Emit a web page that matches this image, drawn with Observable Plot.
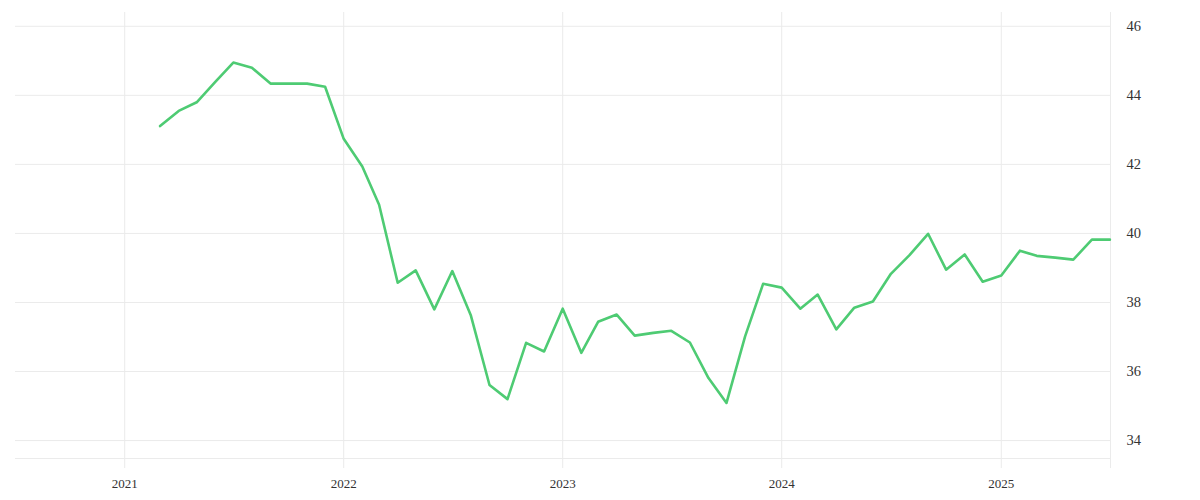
<!DOCTYPE html>
<html>
<head>
<meta charset="utf-8">
<script src="https://cdn.jsdelivr.net/npm/d3@7"></script>
<script src="https://cdn.jsdelivr.net/npm/@observablehq/plot@0.6"></script>
<style>
  html, body { margin: 0; padding: 0; background: #fff; }
  #chart svg { display: block; }
  #chart svg text { font-family: "Liberation Serif", "Times New Roman", serif !important; }
</style>
</head>
<body>
<div id="chart"></div>
<script>
const months = [
  "2021-03","2021-04","2021-05","2021-06","2021-07","2021-08","2021-09","2021-10","2021-11","2021-12",
  "2022-01","2022-02","2022-03","2022-04","2022-05","2022-06","2022-07","2022-08","2022-09","2022-10","2022-11","2022-12",
  "2023-01","2023-02","2023-03","2023-04","2023-05","2023-06","2023-07","2023-08","2023-09","2023-10","2023-11","2023-12",
  "2024-01","2024-02","2024-03","2024-04","2024-05","2024-06","2024-07","2024-08","2024-09","2024-10","2024-11","2024-12",
  "2025-01","2025-02","2025-03","2025-04","2025-05","2025-06","2025-07"
];
const values = [
  43.11, 43.55, 43.80, 44.39, 44.95, 44.80, 44.34, 44.34, 44.34, 44.25,
  42.74, 41.94, 40.83, 38.57, 38.93, 37.80, 38.91, 37.62, 35.61, 35.20, 36.83, 36.58,
  37.82, 36.54, 37.44, 37.65, 37.04, 37.12, 37.18, 36.84, 35.81, 35.09, 37.02, 38.54,
  38.43, 37.82, 38.23, 37.22, 37.85, 38.03, 38.83, 39.37, 39.99, 38.95, 39.39, 38.60,
  38.78, 39.50, 39.35, 39.30, 39.24, 39.82, 39.82
];
const yTicks = [34, 36, 38, 40, 42, 44, 46];
const xTicks = ["2021-01-01", "2022-01-01", "2023-01-01", "2024-01-01", "2025-01-01"];
const xDomain = ["2020-07-03", "2025-07-02"];
const yDomain = [33.48, 46.4];

const parse = d3.utcParse("%Y-%m");
const data = months.map((m, i) => ({date: parse(m), value: values[i]}));
const xTickDates = xTicks.map(s => new Date(s + "T00:00:00Z"));
const xDom = xDomain.map(s => new Date(s + "T00:00:00Z"));

const gridColor = "#ebebeb";
const textColor = "#333";

const chart = Plot.plot({
  width: 1200,
  height: 500,
  marginLeft: 15,
  marginRight: 90,
  marginTop: 12,
  marginBottom: 42,
  style: {fontFamily: "'Liberation Serif', 'Times New Roman', serif", fontSize: "13px", background: "#fff"},
  x: {type: "utc", domain: xDom},
  y: {domain: yDomain},
  marks: [
    Plot.gridY(yTicks, {stroke: gridColor, strokeOpacity: 1}),
    Plot.gridX(xTickDates, {stroke: gridColor, strokeOpacity: 1, insetBottom: -10}),
    Plot.ruleY([yDomain[0]], {stroke: gridColor}),
    Plot.ruleX([xDom[1]], {stroke: gridColor, insetBottom: -10}),
    Plot.axisX(xTickDates, {tickSize: 0, tickPadding: 20, tickFormat: d3.utcFormat("%Y"), fill: textColor, fontSize: 13, label: null}),
    Plot.axisY(yTicks, {anchor: "right", tickSize: 0, tickPadding: 16, fill: textColor, fontSize: 14.5, label: null}),
    Plot.line(data, {x: "date", y: "value", stroke: "#4ecb73", strokeWidth: 2.6})
  ]
});
document.getElementById("chart").append(chart);
</script>
</body>
</html>
